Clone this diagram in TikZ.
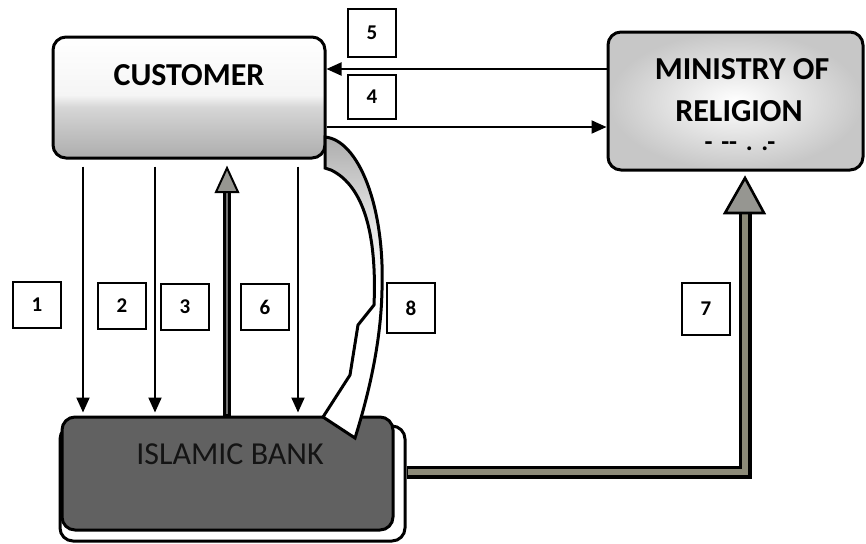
\documentclass[tikz,border=0pt]{standalone}
\usepackage{fontspec}
\setmainfont{Carlito}
\usetikzlibrary{arrows.meta,calc}
\pgfdeclareverticalshading{custshade}{100bp}{color(0bp)=(black!32); color(25bp)=(black!32); color(36bp)=(black!24); color(46bp)=(black!16); color(51bp)=(black!4); color(75bp)=(white); color(100bp)=(white)}
\pgfdeclareverticalshading{bandshade}{100bp}{color(0bp)=(white); color(50bp)=(white); color(62bp)=(black!12); color(75bp)=(black!32); color(100bp)=(black!32)}
\definecolor{shaftgray}{RGB}{140,138,120}
\definecolor{headgray}{RGB}{150,150,145}
\begin{document}
\begin{tikzpicture}[x=0.5pt,y=-0.5pt,
  box/.style={draw=black, line width=1.5pt, rounded corners=6.5pt, inner sep=0pt},
  numbox/.style={draw=black, line width=0.9pt, fill=white, minimum width=24pt, minimum height=23pt, inner sep=0pt, font=\fontsize{10.5}{12}\selectfont\bfseries},
  thinarrow/.style={line width=1pt, -{Triangle[width=6.5pt,length=7.5pt]}},
  title/.style={font=\fontsize{16}{18}\selectfont\bfseries, inner sep=0pt},
  banktitle/.style={font=\fontsize{16}{18}\selectfont, text=black!92, inner sep=0pt}
]
\useasboundingbox (0,0) rectangle (866,543);
\fill[white] (0,0) rectangle (866,543);

% main boxes
\node[box, shading=custshade, minimum width=136pt, minimum height=60.5pt] (cust) at (189,97.5) {};
\node[title] (custtxt) at (189,75) {CUSTOMER};

\node[box, inner color=white, outer color=black!22, minimum width=127.5pt, minimum height=69pt] (min) at (735.5,101) {};
\node[title] (mintxt1) at (742,69) {MINISTRY OF};
\node[title] (mintxt2) at (739,111) {RELIGION};
\node[font=\fontsize{13}{14}\selectfont\bfseries, inner sep=0pt] (mindash) at (740,146) {-\,\,-{}-\,\,.\,\,.-};

\node[box, fill=white, minimum width=172.5pt, minimum height=57.5pt] (bankshadow) at (232.5,483.5) {};
\node[box, fill=black!62, minimum width=165.5pt, minimum height=56.5pt] (bank) at (227.5,473.5) {};
\node[banktitle] (banktxt) at (230,454) {ISLAMIC BANK};

% helper coordinates
\coordinate (y5) at (0,69);
\coordinate (y4) at (0,127);
\coordinate (x1) at (83,0);
\coordinate (x2) at (155,0);
\coordinate (x3) at (227,0);
\coordinate (x6) at (298,0);
\coordinate (y7) at (0,472);
\coordinate (h7) at (745,213);
\coordinate (h3) at (227,192);

% arrows 5 and 4
\draw[thinarrow] (min.west |- y5) -- (cust.east |- y5);
\draw[thinarrow] (cust.east |- y4) -- (min.west |- y4);

% arrows 1, 2, 6
\draw[thinarrow, shorten <=3.5pt, shorten >=1.5pt] (cust.south -| x1) -- (bank.north -| x1);
\draw[thinarrow, shorten <=3.5pt, shorten >=1.5pt] (cust.south -| x2) -- (bank.north -| x2);
\draw[thinarrow, shorten <=3.5pt, shorten >=1.5pt] (cust.south -| x6) -- (bank.north -| x6);

% arrow 3 (thick, upward)
\draw[line width=3.6pt, line cap=butt] (bank.north -| x3) -- (h3);
\draw[line width=1.1pt, black!55, line cap=butt] ($(bank.north -| x3)+(0,-2)$) -- (h3);
\draw[line width=1pt, fill=headgray, line join=miter] ($(h3)+(-11,0)$) -- ($(h3)+(11,0)$) -- ($(h3)+(0,-24)$) -- cycle;

% arrow 7 (bank to ministry)
\draw[line width=6.5pt, line join=miter] (bankshadow.east |- y7) -| (h7);
\draw[line width=3.3pt, shaftgray, line join=miter] ($(bankshadow.east |- y7)+(1,0)$) -| (h7);
\draw[line width=1.3pt, fill=headgray, line join=miter] ($(h7)+(-20,0)$) -- ($(h7)+(19,0)$) -- ($(h7)+(0,-35)$) -- cycle;

% arrow 8 (curved block arrow with lightning head)
\draw[line width=1.5pt, line join=miter, shading=bandshade]
  (325,137) .. controls (358,140) and (385,205) .. (382,290)
  .. controls (381,340) and (370,390) .. (355,438)
  -- (323,417) -- (350,375) -- (358,325) -- (374,305)
  .. controls (377,235) and (364,186) .. (331,170)
  -- (325,168) -- cycle;

% number boxes
\node[numbox, minimum height=24pt] (n5) at (372,33) {5};
\node[numbox, minimum height=22pt] (n4) at (372,97) {4};
\node[numbox] (n1) at (37,305) {1};
\node[numbox] (n2) at (122,306) {2};
\node[numbox] (n3) at (185,307) {3};
\node[numbox] (n6) at (265,307) {6};
\node[numbox, minimum height=25pt] (n8) at (411,308) {8};
\node[numbox, minimum height=26pt] (n7) at (706,309) {7};
\end{tikzpicture}
\end{document}
